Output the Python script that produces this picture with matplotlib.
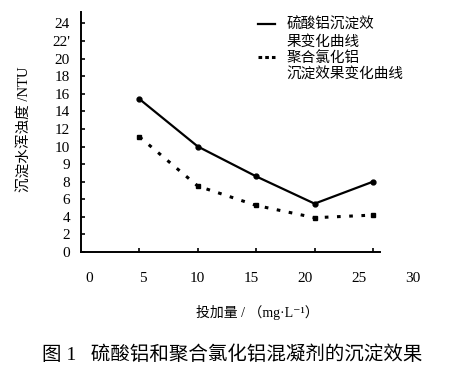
import matplotlib
matplotlib.use('Agg')
import matplotlib.pyplot as plt
from matplotlib.lines import Line2D
import numpy as np

plt.rcParams['font.family'] = ['Liberation Serif', 'Noto Sans CJK SC', 'DejaVu Sans']

# data
dose = [5, 10, 15, 20, 25]
alum = [15.4, 10.0, 8.3, 5.5, 8.0]          # 硫酸铝
pac = [11.1, 7.5, 5.3, 3.9, 4.2]            # 聚合氯化铝
ytick_vals = [0, 2, 4, 6, 8, 9, 10, 12, 14, 16, 18, 20, 22, 24]
ytick_labels = ['0', '2', '4', '6', '8', '9', '10', '12', '14', '16', '18', '20', "22'", '24']
xtick_labels = ['0', '5', '10', '15', '20', '25', '30']

yv = np.array(ytick_vals, float)
idx = np.arange(len(yv), dtype=float)


def fwd(y):
    y = np.asarray(y, float)
    out = np.interp(y, yv, idx)
    out = np.where(y > yv[-1], idx[-1] + (y - yv[-1]) / 2, out)
    out = np.where(y < yv[0], (y - yv[0]) / 2, out)
    return out


def inv(i):
    i = np.asarray(i, float)
    out = np.interp(i, idx, yv)
    out = np.where(i > idx[-1], yv[-1] + (i - idx[-1]) * 2, out)
    out = np.where(i < 0, i * 2, out)
    return out


fig = plt.figure(figsize=(4.56, 3.82), dpi=100)
ax = fig.add_axes([81 / 456, 1 - 252 / 382, 299 / 456, 240 / 382])

ax.plot(dose, alum, color='black', lw=1.6, marker='o', ms=3.5)
ax.plot(dose, pac, color='black', lw=2.2, linestyle=(0, (1.2, 2.8)), marker='s', ms=2.5)

ax.set_yscale('function', functions=(fwd, inv))
ax.set_ylim(0, 25.3)
ax.set_xlim(0, 25.6)
ax.set_yticks(ytick_vals)
ax.set_yticklabels(ytick_labels)
ax.yaxis.set_minor_locator(matplotlib.ticker.NullLocator())
ax.set_xticks(dose)
ax.set_xticklabels([])

for s in ['top', 'right']:
    ax.spines[s].set_visible(False)
for s in ['left', 'bottom']:
    ax.spines[s].set_linewidth(1.4)
ax.tick_params(axis='both', direction='in', length=3, width=1.2, labelsize=11)
ax.tick_params(axis='y', pad=8)

# x tick labels sit slightly off the tick marks in the original
for k, lab in enumerate(xtick_labels):
    ax.text(0.027 + k * 0.1806, -0.11, lab, transform=ax.transAxes,
            ha='center', va='center', fontsize=11)

ax.set_ylabel('沉淀水浑浊度 /NTU', fontsize=10.5)
ax.yaxis.set_label_coords(-0.165, 0.51)

fig.text(257 / 456, 1 - 312 / 382, '投加量 / （mg·L⁻¹）', ha='center', va='center', fontsize=10)
fig.text(232 / 456, 1 - 355 / 382, '图 1   硫酸铝和聚合氯化铝混凝剂的沉淀效果',
         ha='center', va='center', fontsize=14)

blank = Line2D([], [], color='none')
handles = [Line2D([], [], color='black', lw=1.6), blank,
           Line2D([], [], color='black', lw=2.2, linestyle=(0, (1.2, 1.0))), blank]
labels = ['硫酸铝沉淀效', '果变化曲线', '聚合氯化铝', '沉淀效果变化曲线']
fig.legend(handles, labels, loc='upper left', bbox_to_anchor=(258 / 456, 1 - 18 / 382),
           frameon=False, fontsize=10.5, handlelength=1.2, handletextpad=0.75,
           labelspacing=0.18, borderpad=0, borderaxespad=0)

fig.savefig('out.png', dpi=100)
